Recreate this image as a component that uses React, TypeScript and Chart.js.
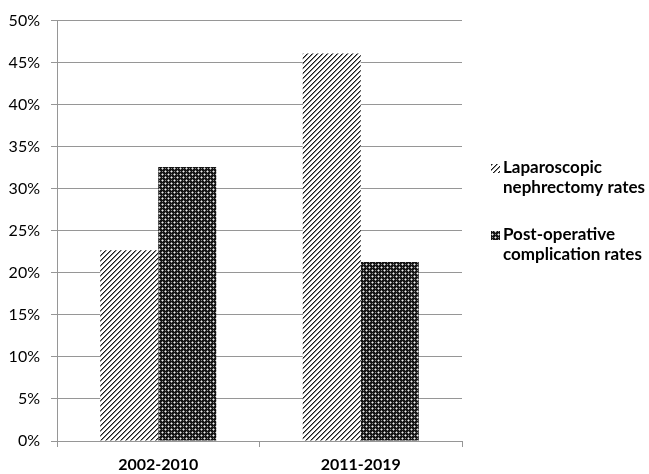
import React, { useEffect, useRef } from "react";
import { Chart, registerables } from "chart.js";

Chart.register(...registerables);

// Study periods on the x axis
const periods = ["2002-2010", "2011-2019"];

// Rates in percent for each period
const laparoscopicRates = [22.7, 46.1];
const complicationRates = [32.6, 21.3];

// Legend text, split over two lines each
const seriesLabels = [
  ["Laparoscopic", "nephrectomy rates"],
  ["Post-operative", "complication rates"],
];

// Y axis range and step (percent)
const yMin = 0;
const yMax = 50;
const yStep = 5;

const FONT = "Lato, 'Noto Sans', sans-serif";

function patternFrom(rows: string[], shades: Record<string, number>): CanvasPattern | string {
  const h = rows.length;
  const w = rows[0].length;
  const c = document.createElement("canvas");
  c.width = w;
  c.height = h;
  const g = c.getContext("2d");
  if (!g) return "#777";
  const img = g.createImageData(w, h);
  for (let y = 0; y < h; y++) {
    for (let x = 0; x < w; x++) {
      const v = shades[rows[y][x]];
      const i = (y * w + x) * 4;
      img.data[i] = v;
      img.data[i + 1] = v;
      img.data[i + 2] = v;
      img.data[i + 3] = 255;
    }
  }
  g.putImageData(img, 0, 0);
  return g.createPattern(c, "repeat") as CanvasPattern;
}

// light forward-diagonal hatch
function makeHatch() {
  const size = 5;
  const rows: string[] = [];
  for (let y = 0; y < size; y++) {
    let r = "";
    for (let x = 0; x < size; x++) {
      const k = (x + y) % size;
      r += k === 0 ? "K" : k === 1 ? "G" : "W";
    }
    rows.push(r);
  }
  return patternFrom(rows, { K: 25, G: 130, W: 255 });
}

// dark field with small light diamonds and gray grid threads
function makeDots() {
  const rows = [
    "WGKGKG",
    "GKKKKK",
    "KKKGKK",
    "GKGWGK",
    "KKKGKK",
    "GKKKKK",
  ];
  return patternFrom(rows, { K: 20, G: 140, W: 235 });
}

const sideLegend = {
  id: "sideLegend",
  afterDraw(chart: any) {
    const ctx = chart.ctx as CanvasRenderingContext2D;
    const area = chart.chartArea;
    const boxX = area.right + 29;
    const textX = boxX + 12;
    const firstY = 168;
    const lineGap = 20;
    const blockGap = 67;
    ctx.save();
    ctx.font = `bold 17px ${FONT}`;
    ctx.textBaseline = "middle";
    ctx.textAlign = "left";
    chart.data.datasets.forEach((ds: any, i: number) => {
      const y = firstY + i * blockGap;
      ctx.fillStyle = ds.backgroundColor;
      ctx.fillRect(boxX, y - 4, 9, 9);
      ctx.fillStyle = "#000";
      seriesLabels[i].forEach((line, j) => {
        ctx.fillText(line, textX, y + j * lineGap);
      });
    });
    ctx.restore();
  },
};

export default function App() {
  const ref = useRef<HTMLCanvasElement>(null);

  useEffect(() => {
    if (!ref.current) return;
    const hatch = makeHatch();
    const dots = makeDots();
    const chart = new Chart(ref.current, {
      type: "bar",
      data: {
        labels: periods,
        datasets: [
          {
            label: seriesLabels[0].join(" "),
            data: laparoscopicRates,
            backgroundColor: hatch as any,
            borderWidth: 0,
          },
          {
            label: seriesLabels[1].join(" "),
            data: complicationRates,
            backgroundColor: dots as any,
            borderWidth: 0,
          },
        ],
      },
      options: {
        animation: false,
        responsive: false,
        maintainAspectRatio: false,
        layout: { padding: { top: 19, right: 187, bottom: 0, left: 0 } },
        datasets: {
          bar: { categoryPercentage: 0.573, barPercentage: 1 },
        },
        plugins: {
          legend: { display: false },
          tooltip: { enabled: false },
        },
        scales: {
          x: {
            grid: {
              display: true,
              drawOnChartArea: false,
              offset: true,
              tickLength: 6,
              color: "#969696",
            },
            border: { display: true, color: "#969696" },
            ticks: {
              color: "#000",
              padding: 8,
              font: { family: FONT, size: 16, weight: "bold" },
            },
            afterFit(scale: any) {
              scale.height = 33;
            },
          },
          y: {
            min: yMin,
            max: yMax,
            ticks: {
              stepSize: yStep,
              color: "#000",
              padding: 11,
              font: { family: FONT, size: 16 },
              callback: (v: any) => `${v}%`,
            },
            grid: { color: "#969696", tickLength: 6 },
            border: { display: true, color: "#969696" },
            afterFit(scale: any) {
              scale.width = 57;
            },
          },
        },
      },
      plugins: [sideLegend],
    });
    return () => chart.destroy();
  }, []);

  return (
    <div style={{ position: "fixed", left: 0, top: 0, width: 649, height: 474, background: "#fff" }}>
      <canvas ref={ref} width={649} height={474} style={{ display: "block" }} />
    </div>
  );
}
